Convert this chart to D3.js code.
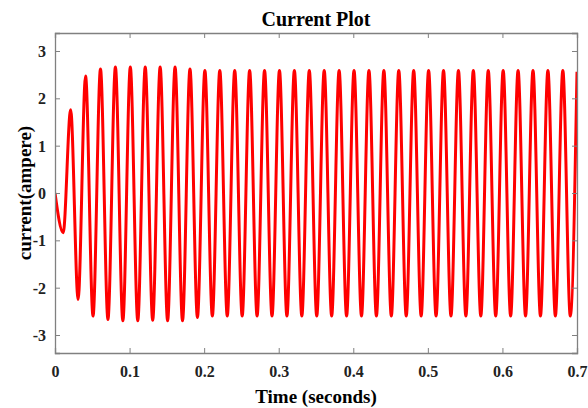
<!doctype html>
<html>
  <head>
    <meta charset="utf-8">
    <script src="https://cdn.jsdelivr.net/npm/d3@7"></script>
    <style>
    body { margin: 0; background: #fff; }
    .chart { font-family: 'Liberation Serif', 'Times New Roman', serif; font-weight: 700; }
    .tick text { font-size: 16px; fill: #222; }
    </style>
  </head>
  <body>
    <svg class="chart"></svg>
  <script>

    // extrema of the current waveform
    const times = [0, 0.011, 0.021, 0.031, 0.041, 0.051, 0.061, 0.071, 0.081, 0.091,
                   0.101, 0.111, 0.121, 0.131, 0.141, 0.151, 0.161, 0.171, 0.181, 0.191,
                   0.201, 0.211, 0.221, 0.231, 0.241, 0.251, 0.261, 0.271, 0.281, 0.291,
                   0.301, 0.311, 0.321, 0.331, 0.341, 0.351, 0.361, 0.371, 0.381, 0.391,
                   0.401, 0.411, 0.421, 0.431, 0.441, 0.451, 0.461, 0.471, 0.481, 0.491,
                   0.501, 0.511, 0.521, 0.531, 0.541, 0.551, 0.561, 0.571, 0.581, 0.591,
                   0.601, 0.611, 0.621, 0.631, 0.641, 0.651, 0.661, 0.671, 0.681, 0.691,
                   0.700]
    const current = [0, -0.84, 1.76, -2.25, 2.47, -2.60, 2.62, -2.67, 2.66, -2.70,
                     2.66, -2.70, 2.66, -2.69, 2.66, -2.70, 2.66, -2.70, 2.62, -2.63,
                     2.59, -2.60, 2.59, -2.60, 2.59, -2.60, 2.59, -2.60, 2.59, -2.60,
                     2.59, -2.60, 2.59, -2.60, 2.59, -2.60, 2.59, -2.60, 2.59, -2.60,
                     2.59, -2.60, 2.59, -2.60, 2.59, -2.60, 2.59, -2.60, 2.59, -2.60,
                     2.59, -2.60, 2.59, -2.60, 2.59, -2.60, 2.59, -2.60, 2.59, -2.60,
                     2.59, -2.60, 2.59, -2.60, 2.59, -2.60, 2.59, -2.60, 2.59, -2.60,
                     2.56]

    const xTicks = [0, 0.1, 0.2, 0.3, 0.4, 0.5, 0.6, 0.7]
    const yTicks = [-3, -2, -1, 0, 1, 2, 3]

    const W = 588, H = 408
    const margin = { left: 55, top: 33, right: 11, bottom: 55 },
        width = W - margin.left - margin.right,
        height = H - margin.top - margin.bottom

    const x = d3.scaleLinear().domain([0, 0.7]).range([0, width])
    const y = d3.scaleLinear().domain([-3.38, 3.38]).range([height, 0])

    const svg = d3.select(".chart").attr("width", W).attr("height", H)
    const chart = svg.append("g")
      .attr("transform", "translate(" + margin.left + "," + margin.top + ")")

    svg.append("defs").append("clipPath").attr("id", "clip")
      .append("rect").attr("width", width).attr("height", height)

    const data = times.map((t, i) => ({ t: t, v: current[i] }))

    const line = d3.line()
      .x(d => x(d.t))
      .y(d => y(d.v))
      .curve(d3.curveMonotoneX)

    chart.append("path")
      .datum(data)
      .attr("clip-path", "url(#clip)")
      .attr("fill", "none")
      .attr("stroke", "#ff0000")
      .attr("stroke-width", 3)
      .attr("stroke-linejoin", "round")
      .attr("d", line)

    const axisColor = "#808080"
    const tk = 5

    // bottom / left with labels, ticks pointing inward
    const xAxis = chart.append("g")
      .attr("transform", "translate(0," + height + ")")
      .call(d3.axisBottom(x).tickValues(xTicks).tickSize(-tk).tickPadding(13)
        .tickFormat(d => String(d)))
    const yAxis = chart.append("g")
      .call(d3.axisLeft(y).tickValues(yTicks).tickSize(-tk).tickPadding(9)
        .tickFormat(d => String(d)))
    const xTop = chart.append("g")
      .call(d3.axisTop(x).tickValues(xTicks).tickSize(-tk).tickFormat(""))
    const yRight = chart.append("g")
      .attr("transform", "translate(" + width + ",0)")
      .call(d3.axisRight(y).tickValues(yTicks).tickSize(-tk).tickFormat(""))

    ;[xAxis, yAxis, xTop, yRight].forEach(g => {
      g.attr("font-family", null).attr("font-size", null)
      g.select(".domain").attr("stroke", axisColor).attr("stroke-width", 1.3)
      g.selectAll(".tick line").attr("stroke", axisColor)
    })
    xAxis.selectAll(".tick text").attr("dy", "0.71em")
    yAxis.selectAll(".tick text").attr("dy", "0.34em")

    svg.append("text")
      .attr("x", margin.left + width / 2)
      .attr("y", 26)
      .attr("text-anchor", "middle")
      .style("font-size", "20px")
      .text("Current Plot")

    svg.append("text")
      .attr("x", margin.left + width / 2)
      .attr("y", 403)
      .attr("text-anchor", "middle")
      .style("font-size", "19px")
      .text("Time (seconds)")

    svg.append("text")
      .attr("transform", "translate(31," + (margin.top + height / 2) + ") rotate(-90)")
      .attr("text-anchor", "middle")
      .style("font-size", "19px")
      .text("current(ampere)")

  </script>
  </body>
</html>
